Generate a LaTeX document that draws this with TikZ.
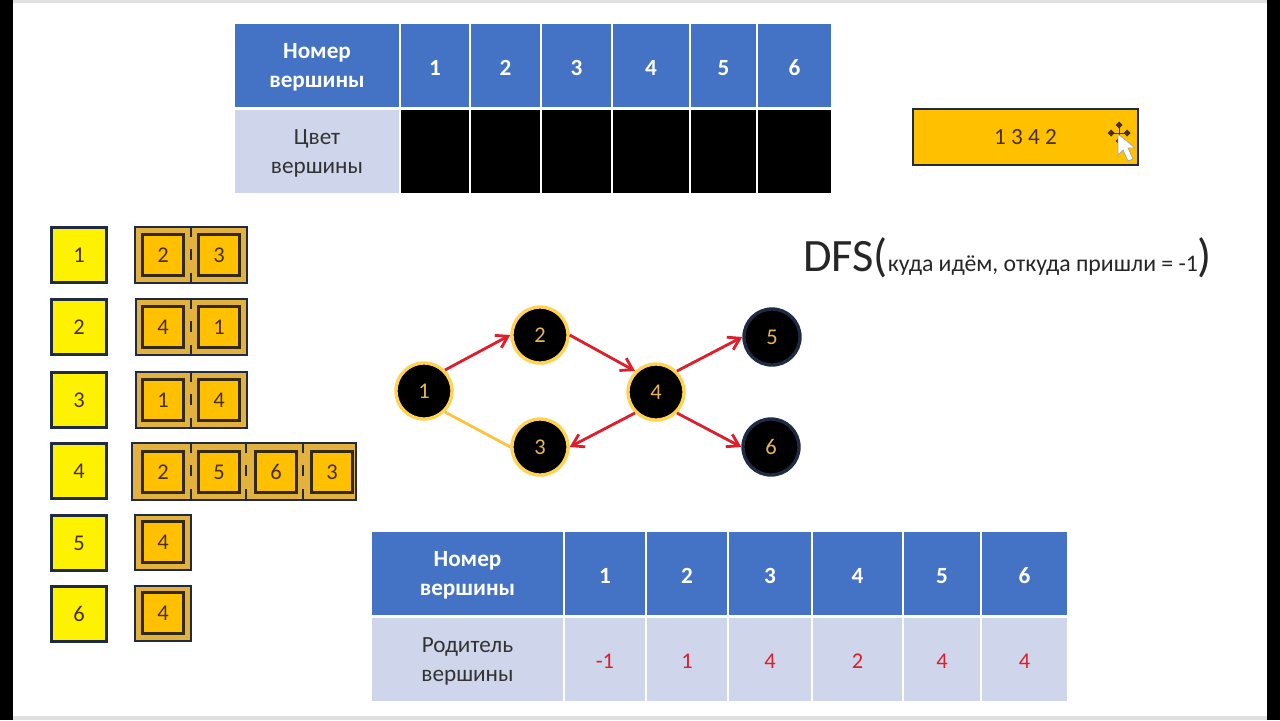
\documentclass[tikz,border=0pt]{standalone}
\usepackage{fontspec}
\setmainfont{Carlito}
\usetikzlibrary{arrows.meta}
\definecolor{headblue}{HTML}{4472C4}
\definecolor{rowgray}{HTML}{CFD5EA}
\definecolor{boxdark}{HTML}{1F2A44}
\definecolor{listfill}{HTML}{E2B23C}
\definecolor{cellorange}{HTML}{FFC000}
\definecolor{numbrown}{HTML}{4A3010}
\definecolor{celledge}{HTML}{33291A}
\definecolor{edgered}{HTML}{DC1F2A}
\definecolor{ringyellow}{HTML}{FFD34D}
\definecolor{numtan}{HTML}{E8B45A}
\tikzset{
  headcell/.style={fill=headblue,text=white,font=\fontsize{16.5}{20.5}\selectfont\bfseries,align=center,nodes={yshift=-1.5pt}},
  rowcell/.style={fill=rowgray,text=black!80,font=\fontsize{16.5}{20.5}\selectfont,align=center,nodes={yshift=-1.5pt}},
  colorcell/.style={fill=black},
  parentcell/.style={fill=rowgray,text=edgered,font=\fontsize{16}{20}\selectfont,nodes={yshift=-1pt}},
  vertexbox/.style={draw=boxdark,line width=2.2pt,fill=yellow,text=numbrown,minimum size=13.8mm,inner sep=0pt,font=\fontsize{16}{18}\selectfont},
  listbox/.style={draw=boxdark,line width=2.1pt,fill=listfill},
  listcell/.style={draw=celledge,line width=2.1pt,fill=cellorange,text=numbrown,minimum size=10.2mm,inner sep=0pt,font=\fontsize{16}{18}\selectfont},
  listsplit/.style={draw=boxdark,line width=2.1pt,dash pattern=on 7.8pt off 8.9pt},
  gnode/.style={circle,draw=ringyellow,line width=2.4pt,fill=black,text=numtan,minimum size=14mm,inner sep=0pt,font=\fontsize{16}{18}\selectfont},
  gleaf/.style={gnode,draw=boxdark},
  treeedge/.style={draw=edgered,line width=2pt,-{Straight Barb[length=8pt,width=10pt]}},
  plainedge/.style={draw=ringyellow!80!orange,line width=2pt},
}
\begin{document}
\begin{tikzpicture}[x=0.25mm,y=-0.25mm]
      \useasboundingbox (0,0) rectangle (1280,720);
      \fill[gray!25] (0,0) rectangle (1280,3);
      \fill[gray!25] (0,716) rectangle (1280,720);
      \fill[black] (0,0) rectangle (13,720);
      \fill[black] (1267,0) rectangle (1280,720);

      % top table
      \path[headcell] (235,24) rectangle node (tophead) {Номер\\вершины} (399,107);
      \path[rowcell] (235,110) rectangle node (toprow) {Цвет\\вершины} (399,193);
      \foreach \n/\a/\b in {1/401/469,2/471/540,3/542/611,4/613/689,5/691/756,6/758/831}
      {
        \path[headcell] (\a,24) rectangle node (top\n) {\n} (\b,107);
        \path[colorcell] (\a,110) rectangle (\b,193);
      }

      % bottom table
      \path[headcell] (372,532) rectangle node (bothead) {Номер\\вершины} (563,615);
      \path[rowcell] (372,618) rectangle node (botrow) {Родитель\\вершины} (563,701);
      \foreach \n/\a/\b/\p in {1/565/645/-1,2/647/727/1,3/729/811/4,4/813/902/2,5/904/980/4,6/982/1067/4}
      {
        \path[headcell] (\a,532) rectangle node (bot\n) {\n} (\b,615);
        \path[parentcell] (\a,618) rectangle node (par\n) {\p} (\b,701);
      }

      % order card
      \draw[draw=boxdark,line width=2.1pt,fill=cellorange] (913,109) rectangle node[text=numbrown,font=\fontsize{16.5}{18}\selectfont] (order) {1 3 4 2} (1138,165);
      \foreach \dx/\dy in {0/-8,-8/0,8/0,0/8}
        \fill[numbrown] (1119+\dx,133+\dy) +(-3.5,0) -- +(0,-3.5) -- +(3.5,0) -- +(0,3.5) -- cycle;
      \draw[numbrown,line width=0.6pt] (1111,133) -- (1127,133) (1119,125) -- (1119,141);
      \draw[draw=gray!70,fill=white,line width=0.5pt] (1118,134) -- (1118,155) -- (1123,150) -- (1128,161) -- (1133,159) -- (1128,148) -- (1135,148) -- cycle;

      % call signature
      \node[anchor=base west,inner sep=0pt,text=black!85] (call) at (803,271)
        {\fontsize{33}{33}\selectfont DFS(\raisebox{0pt}{\fontsize{16.9}{18}\selectfont куда идём, откуда пришли = -1})};

      % vertices
      \foreach \n/\y in {1/255,2/327,3/400,4/471,5/543,6/614}
        \node[vertexbox] (v\n) at (79,\y) {\n};

      % adjacency lists
      \draw[listbox] (135,227) rectangle (247,283);
      \draw[listbox] (136,299) rectangle (247,355);
      \draw[listbox] (136,372) rectangle (247,428);
      \draw[listbox] (132,443) rectangle (356,500);
      \draw[listbox] (135,515) rectangle (191,570);
      \draw[listbox] (135,586) rectangle (191,641);
      \foreach \x in {191}
      {
        \draw[listsplit] (\x,226) -- (\x,284);
        \draw[listsplit] (\x,298) -- (\x,356);
        \draw[listsplit] (\x,371) -- (\x,429);
      }
      \foreach \x in {191,246,303}
        \draw[listsplit] (\x,442) -- (\x,501);
      \foreach \m/\x/\y/\t in {a/163/255/2,b/219/255/3,c/163/327/4,d/219/327/1,e/163/400/1,f/219/400/4,
                               g/163/472/2,h/219/472/5,i/276/472/6,j/332/472/3,k/163/542/4,l/163/613/4}
        \node[listcell] (n\m) at (\x,\y) {\t};

      % graph
      \node[gnode] (g1) at (424,391) {1};
      \node[gnode] (g2) at (540,335) {2};
      \node[gnode] (g3) at (540,447) {3};
      \node[gnode] (g4) at (656,392) {4};
      \node[gleaf] (g5) at (772,337) {5};
      \node[gleaf] (g6) at (771,447) {6};

      \draw[treeedge] (g1.north east) -- (g2.west);
      \draw[treeedge] (g2.east) -- (g4.north west);
      \draw[treeedge] (g4.south west) -- (g3.east);
      \draw[treeedge] (g4.north east) -- (g5.west);
      \draw[treeedge] (g4.south east) -- (g6.west);
      \draw[plainedge] (g1.south east) -- (g3.west);
\end{tikzpicture}
\end{document}
